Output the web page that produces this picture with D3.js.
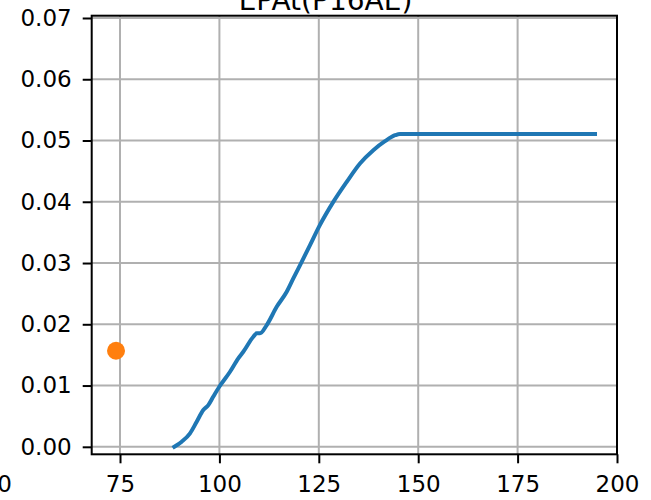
<!DOCTYPE html>
<html><head><meta charset="utf-8">
<script src="https://cdn.jsdelivr.net/npm/d3@7"></script>
<style>body{margin:0;background:#fff}svg{display:block}text{font-family:"DejaVu Sans",sans-serif}</style>
</head><body><svg id="c" width="651" height="500"></svg>
<script>
const title = "EPAt(P16AE)";
const xTicks = [75, 100, 125, 150, 175, 200];
const yTicks = [0, 0.01, 0.02, 0.03, 0.04, 0.05, 0.06, 0.07];
const lineX = [88.66, 90.52, 92.61, 94.29, 95.95, 97.21, 98.47, 99.97, 102.67, 104.75, 106.01, 108.53, 109.38, 110.21, 111.90, 114.41, 116.93, 118.59, 120.70, 122.79, 125.13, 128.65, 132.02, 135.36, 138.71, 141.65, 144.17, 145.42, 194.47];
const lineY = [0.0000, 0.00083, 0.0022, 0.0041, 0.0060, 0.0068, 0.0082, 0.0098, 0.01225, 0.01444, 0.01551, 0.01796, 0.01852, 0.01852, 0.01987, 0.02285, 0.0253, 0.02749, 0.0302, 0.03292, 0.03602, 0.03998, 0.04325, 0.04625, 0.04842, 0.04989, 0.05086, 0.05108, 0.05108];
const pointX = [74.0];
const pointY = [0.01568];

const svg = d3.select("#c");
const L = 91.7, R = 617, T = 15.7, B = 454.3;
const x = d3.scaleLinear().domain([67.88, 200]).range([L, R]);
const y = d3.scaleLinear().domain([-0.001224, 0.070375]).range([B, T]);

// grid
const g = svg.append("g");
g.selectAll("line.gx").data(xTicks).join("line")
  .attr("x1", d => x(d)).attr("x2", d => x(d)).attr("y1", T).attr("y2", B)
  .attr("stroke", "#b0b0b0").attr("stroke-width", 2);
g.selectAll("line.gy").data(yTicks).join("line")
  .attr("y1", d => y(d)).attr("y2", d => y(d)).attr("x1", L).attr("x2", R)
  .attr("stroke", "#b0b0b0").attr("stroke-width", 2);

// data line
const pts = lineX.map((v, i) => [v, lineY[i]]);
svg.append("path").datum(pts)
  .attr("d", d3.line().x(d => x(d[0])).y(d => y(d[1])).curve(d3.curveMonotoneX))
  .attr("fill", "none").attr("stroke", "#1f77b4").attr("stroke-width", 4)
  .attr("stroke-linecap", "square").attr("stroke-linejoin", "round");

// point
svg.selectAll("circle.p").data(pointX).join("circle")
  .attr("cx", d => x(d)).attr("cy", (d, i) => y(pointY[i])).attr("r", 9)
  .attr("fill", "#ff7f0e");

// axes
const fmtY = d3.format(".2f");
const ax = svg.append("g").attr("transform", `translate(0,${B})`)
  .call(d3.axisBottom(x).tickValues(xTicks).tickSize(9).tickPadding(12).tickFormat(d3.format("d")));
const ay = svg.append("g").attr("transform", `translate(${L},0)`)
  .call(d3.axisLeft(y).tickValues(yTicks).tickSize(9).tickPadding(11).tickFormat(fmtY));
[ax, ay].forEach(a => {
  a.select(".domain").remove();
  a.selectAll("line").attr("stroke", "#000").attr("stroke-width", 2);
  a.selectAll("text").attr("fill", "#000").style("font-size", "23px").style("font-family", "DejaVu Sans");
});

// frame
svg.append("rect").attr("x", L).attr("y", T).attr("width", R - L).attr("height", B - T)
  .attr("fill", "none").attr("stroke", "#000").attr("stroke-width", 2);

// clipped fragments (the reference crops these at the image edge)
svg.append("text").attr("x", 325.5).attr("y", 10).attr("text-anchor", "middle")
  .style("font-size", "28px").attr("fill", "#000").text(title);
svg.append("text").attr("x", 12).attr("y", 492).attr("text-anchor", "end")
  .style("font-size", "23px").attr("fill", "#000").text("0");
</script></body></html>
